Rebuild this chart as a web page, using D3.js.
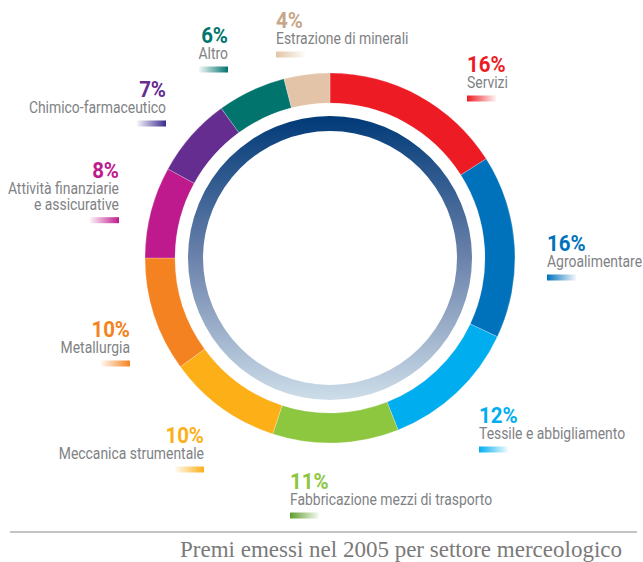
<!DOCTYPE html>
<html>
<head>
<meta charset="utf-8">
<script src="https://cdn.jsdelivr.net/npm/d3@7"></script>
<style>
  html, body { margin: 0; padding: 0; background: #fff; }
  svg { display: block; }
</style>
</head>
<body>
<svg id="chart" width="643" height="562"></svg>
<script>
// Share of premiums by sector, clockwise from twelve o'clock
const sectors = [
  "Servizi", "Agroalimentare", "Tessile e abbigliamento",
  "Fabbricazione mezzi di trasporto", "Meccanica strumentale", "Metallurgia",
  "Attività finanziarie\ne assicurative", "Chimico-farmaceutico", "Altro",
  "Estrazione di minerali"
];
const shares = [16, 16, 12, 11, 10, 10, 8, 7, 6, 4];
const title = "Premi emessi nel 2005 per settore merceologico";

// Palette
const sliceColors = ["#ed1c24", "#0072bc", "#00aeef", "#8dc63f", "#fcaf17",
                     "#f58220", "#be1a8d", "#662d91", "#00746d", "#e3c4a8"];
const pctColors   = ["#ed1c24", "#0072bc", "#00aeef", "#8dc63f", "#fcaf17",
                     "#f58220", "#be1a8d", "#662d91", "#00746d", "#c8a688"];
const barColors   = ["#ed1c24", "#0072bc", "#00aeef", "#5f9e2c", "#fcaf17",
                     "#f58220", "#be1a8d", "#3b2a8c", "#00746d", "#e3c4a8"];

// Label anchors: x, baseline of the percentage, text alignment
const labelSpots = [
  { x: 467, y: 72,  side: "start" },
  { x: 547, y: 251, side: "start" },
  { x: 479, y: 423, side: "start" },
  { x: 290, y: 489, side: "start" },
  { x: 204, y: 443, side: "end" },
  { x: 130, y: 337, side: "end" },
  { x: 119, y: 178, side: "end" },
  { x: 166, y: 97,  side: "end" },
  { x: 228, y: 43,  side: "end" },
  { x: 276, y: 28,  side: "start" }
];

const svg = d3.select("#chart");
const defs = svg.append("defs");
const cx = 330, cy = 258;

const rows = sectors.map((name, i) => ({ name, value: shares[i], i }));

// Outer donut
const pie = d3.pie().value(d => d.value).sort(null);
const arc = d3.arc().innerRadius(155).outerRadius(185);

const g = svg.append("g").attr("transform", `translate(${cx},${cy})`);
g.selectAll("path.slice")
  .data(pie(rows))
  .join("path")
  .attr("class", "slice")
  .attr("d", arc)
  .attr("fill", d => sliceColors[d.data.i])
  .attr("stroke", "#ffffff")
  .attr("stroke-width", 0.4)
  .attr("stroke-opacity", 0.6);

// Inner ring with vertical gradient
const ringGrad = defs.append("linearGradient")
  .attr("id", "ringGrad")
  .attr("x1", 0).attr("y1", 0).attr("x2", 0).attr("y2", 1);
ringGrad.append("stop").attr("offset", "0%").attr("stop-color", "#003a78");
ringGrad.append("stop").attr("offset", "50%").attr("stop-color", "#6b82ab");
ringGrad.append("stop").attr("offset", "100%").attr("stop-color", "#cddde9");

const ring = d3.arc().innerRadius(127).outerRadius(142)
  .startAngle(0).endAngle(2 * Math.PI);
g.append("path").attr("d", ring()).attr("fill", "url(#ringGrad)");

// Labels (condensed by a horizontal squeeze)
const labFont = "Roboto, 'Noto Sans', sans-serif";
const pctSqueeze = 0.93, nameSqueeze = 0.87;
const fmt = d => d + "%";

function squeezedText(parent, x, y, anchor, sx) {
  return parent.append("text")
    .attr("transform", `translate(${x},${y}) scale(${sx},1)`)
    .attr("text-anchor", anchor)
    .attr("font-family", labFont);
}

rows.forEach((d, i) => {
  const s = labelSpots[i];
  const lg = svg.append("g");
  squeezedText(lg, s.x, s.y, s.side, pctSqueeze)
    .attr("font-weight", "bold")
    .attr("font-size", 22)
    .attr("fill", pctColors[i])
    .text(fmt(d.value));

  const lines = d.name.split("\n");
  lines.forEach((ln, k) => {
    squeezedText(lg, s.x, s.y + 16 + k * 15.7, s.side, nameSqueeze)
      .attr("font-size", 16)
      .attr("fill", "#808285")
      .text(ln);
  });

  // Fading bar beneath each label
  const gid = "barGrad" + i;
  const bg = defs.append("linearGradient").attr("id", gid)
    .attr("x1", 0).attr("y1", 0).attr("x2", 1).attr("y2", 0);
  const solidLeft = s.side === "start";
  bg.append("stop").attr("offset", "0%")
    .attr("stop-color", barColors[i]).attr("stop-opacity", solidLeft ? 1 : 0.05);
  bg.append("stop").attr("offset", "100%")
    .attr("stop-color", barColors[i]).attr("stop-opacity", solidLeft ? 0.05 : 1);
  const bw = 29, bh = 6;
  const by = s.y + 16 + (lines.length - 1) * 15.7 + 7.5;
  lg.append("rect")
    .attr("x", solidLeft ? s.x : s.x - bw)
    .attr("y", by)
    .attr("width", bw).attr("height", bh)
    .attr("fill", `url(#${gid})`);
});

// Footer rule and caption
svg.append("line")
  .attr("x1", 10).attr("x2", 637)
  .attr("y1", 532).attr("y2", 532)
  .attr("stroke", "#8a8a8a").attr("stroke-width", 1.2);
svg.append("text")
  .attr("x", 622).attr("y", 557)
  .attr("text-anchor", "end")
  .attr("font-family", "'Liberation Serif', 'Times New Roman', serif")
  .attr("font-size", 23)
  .attr("fill", "#7a7a7a")
  .text(title);
</script>
</body>
</html>
